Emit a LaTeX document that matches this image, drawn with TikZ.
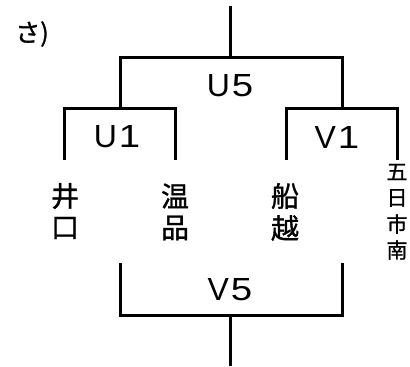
\documentclass[tikz,border=0pt]{standalone}
\usepackage{fontspec}
\setmainfont{Noto Sans CJK JP}
\newfontfamily\cjkheavy[FakeBold=1.2]{Noto Sans CJK JP}
\newfontfamily\latinfont{Liberation Sans}
\begin{document}
\begin{tikzpicture}[x=1pt,y=-1pt,
  br/.style={line width=3pt,line join=miter,line cap=butt},
  lat/.style={inner sep=0pt,font=\latinfont\fontsize{32}{32}\selectfont},
  big/.style={inner sep=0pt,font=\cjkheavy\fontsize{28}{28}\selectfont},
  small/.style={inner sep=0pt,font=\cjkheavy\fontsize{21}{21}\selectfont},
  lbl/.style={inner sep=0pt,font=\cjkheavy\fontsize{25}{25}\selectfont}]
\useasboundingbox (0,0) rectangle (410,367);
% coordinates
\coordinate (top) at (230,6);
\coordinate (topj) at (230,57);
\coordinate (u5l) at (120,57);
\coordinate (u5r) at (342,57);
\coordinate (u5lb) at (120,108);
\coordinate (u5rb) at (342,108);
\coordinate (u1l) at (64,108);
\coordinate (u1r) at (175,108);
\coordinate (u1lb) at (64,160);
\coordinate (u1rb) at (175,160);
\coordinate (v1l) at (286,108);
\coordinate (v1r) at (397,108);
\coordinate (v1lb) at (286,160);
\coordinate (v1rb) at (397,160);
\coordinate (v5lt) at (120,263);
\coordinate (v5rt) at (342,263);
\coordinate (v5l) at (120,315);
\coordinate (v5r) at (342,315);
\coordinate (botj) at (230,315);
\coordinate (bot) at (230,366);
% labels
\node[lbl] (sa) at (32,34) {さ)};
\node[lat] (U5) at (230,86) {U\kern2pt\scalebox{1.2}[1]{5}};
\node[lat] (U1) at (117,137) {U\kern2pt\scalebox{1.2}[1]{1}};
\node[lat] (V1) at (337,137) {V\kern2pt\scalebox{1.2}[1]{1}};
\node[lat] (V5) at (230,290) {V\kern2pt\scalebox{1.2}[1]{5}};
\node[big] (i1) at (65,196) {井};
\node[big] (i2) at (65,228) {口};
\node[big] (o1) at (175,196) {温};
\node[big] (o2) at (175,228) {品};
\node[big] (f1) at (285,196) {船};
\node[big] (f2) at (285,228) {越};
\node[small] (g1) at (397,172) {五};
\node[small] (g2) at (397,198) {日};
\node[small] (g3) at (397,224) {市};
\node[small] (g4) at (397,250) {南};
% brackets
\draw[br] (top) -- (topj);
\draw[br] (u5lb) -- (u5l) -- (u5r) -- (u5rb);
\draw[br] (u1lb) -- (u1l) -- (u1r) -- (u1rb);
\draw[br] (v1lb) -- (v1l) -- (v1r) -- (v1rb);
\draw[br] (v5lt) -- (v5l) -- (v5r) -- (v5rt);
\draw[br] (botj) -- (bot);
\end{tikzpicture}
\end{document}
